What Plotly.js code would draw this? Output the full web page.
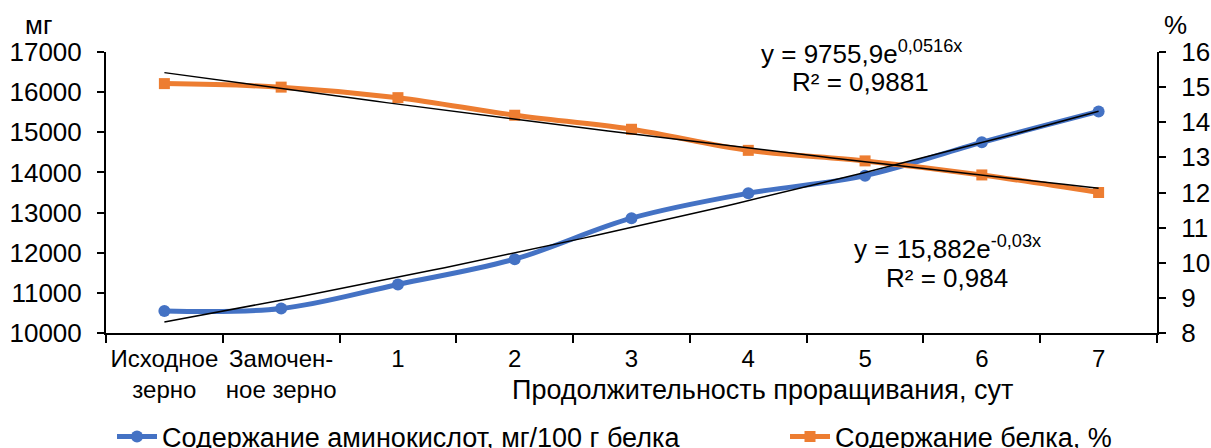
<!DOCTYPE html>
<html>
<head>
<meta charset="utf-8">
<script src="https://cdn.plot.ly/plotly-3.0.1.min.js"></script>
<style>html,body{margin:0;padding:0;background:#fff;}#chart{width:1211px;height:448px;}</style>
</head>
<body>
<div id="chart"></div>
<script>
// ---- data ----
const categories = ["Исходное<br>зерно", "Замочен-<br>ное зерно", "1", "2", "3", "4", "5", "6", "7"];
const aminoAcids = [10550, 10610, 11210, 11840, 12860, 13480, 13920, 14750, 15520];
const protein = [15.1, 15.0, 14.7, 14.2, 13.8, 13.2, 12.9, 12.5, 12.0];
const aminoName = "Содержание аминокислот, мг/100 г белка";
const proteinName = "Содержание белка, %";
// exponential trend coefficients as printed on the chart: y = a*e^(b*x), x = 1..9
const aminoTrend = {a: 9755.9, b: 0.0516};
const proteinTrend = {a: 15.882, b: -0.03};
const aminoEq = "y = 9755,9e<sup>0,0516x</sup>";
const aminoR2 = "R² = 0,9881";
const proteinEq = "y = 15,882e<sup>-0,03x</sup>";
const proteinR2 = "R² = 0,984";
const xTitle = "Продолжительность проращивания, сут";
const yLeftUnit = "мг";
const yRightUnit = "%";

// ---- trend lines from printed equations ----
function trend(c) {
  const xs = [], ys = [];
  for (let i = 0; i <= 80; i++) {
    const x = 1 + i * 0.1;
    xs.push(x - 1);
    ys.push(c.a * Math.exp(c.b * x));
  }
  return {xs, ys};
}
const tA = trend(aminoTrend), tP = trend(proteinTrend);

const FONT = "Liberation Sans, Arial, sans-serif";
const FS = 26;
const blue = "#4472C4", orange = "#ED7D31";

const traces = [
  {x: categories, y: aminoAcids, name: aminoName, type: "scatter", mode: "lines+markers",
   line: {color: blue, width: 5, shape: "spline", smoothing: 1}, marker: {symbol: "circle", size: 12, color: blue},
   xaxis: "x", yaxis: "y", legend: "legend"},
  {x: categories, y: protein, name: proteinName, type: "scatter", mode: "lines+markers",
   line: {color: orange, width: 5, shape: "spline", smoothing: 1}, marker: {symbol: "square", size: 11, color: orange},
   xaxis: "x", yaxis: "y2", legend: "legend2"},
  {x: tA.xs, y: tA.ys, type: "scatter", mode: "lines", line: {color: "#000", width: 1.5},
   showlegend: false, hoverinfo: "skip", xaxis: "x2", yaxis: "y"},
  {x: tP.xs, y: tP.ys, type: "scatter", mode: "lines", line: {color: "#000", width: 1.5},
   showlegend: false, hoverinfo: "skip", xaxis: "x2", yaxis: "y2"}
];

const L = 106, R = 1157, T = 52, B = 333;
const px = v => (v - L) / (R - L);
const py = v => (B - v) / (B - T);
function ann(text, x, y, size) {
  return {text, xref: "paper", yref: "paper", x: px(x), y: py(y), xanchor: "center", yanchor: "middle",
          showarrow: false, align: "center", font: {size: size || FS}};
}
function leg(xPix) {
  return {orientation: "h", xref: "paper", yref: "paper", x: px(xPix), xanchor: "left",
          y: py(437), yanchor: "middle", font: {size: 27}, itemwidth: 40,
          bgcolor: "rgba(0,0,0,0)", borderwidth: 0};
}

const layout = {
  width: 1211, height: 448,
  margin: {l: L, r: 1211 - R, t: T, b: 448 - B, autoexpand: false},
  paper_bgcolor: "#fff", plot_bgcolor: "#fff",
  font: {family: FONT, size: FS, color: "#000"},
  showlegend: true,
  xaxis: {type: "category", range: [-0.5, 8.5], tickson: "boundaries", ticks: "outside", ticklen: 8,
          tickwidth: 2, tickcolor: "#000", showline: true, linecolor: "#000", linewidth: 2, tickangle: 0,
          ticklabelstandoff: 3, showgrid: false, zeroline: false, tickfont: {size: 24}, fixedrange: true},
  xaxis2: {type: "linear", range: [-0.5, 8.5], overlaying: "x", visible: false, fixedrange: true},
  yaxis: {range: [10000, 17000], dtick: 1000, ticks: "outside", ticklen: 7, tickwidth: 2, tickcolor: "#000",
          showline: true, linecolor: "#000", linewidth: 2, showgrid: false, zeroline: false,
          tickformat: "d", ticklabelstandoff: 10, tickfont: {size: FS}, fixedrange: true},
  yaxis2: {range: [8, 16], dtick: 1, overlaying: "y", side: "right", ticks: "outside", ticklen: 7, tickwidth: 2,
           tickcolor: "#000", showline: true, linecolor: "#000", linewidth: 2, showgrid: false, zeroline: false,
           ticklabelstandoff: 10, tickfont: {size: FS}, fixedrange: true},
  legend: leg(112),
  legend2: leg(785),
  annotations: [
    ann(yLeftUnit, 38, 25),
    ann(yRightUnit, 1175, 25),
    ann(aminoEq, 861, 52),
    ann(aminoR2, 860, 82),
    ann(proteinEq, 947, 247),
    ann(proteinR2, 947, 278),
    ann(xTitle, 762, 390, 27)
  ]
};

Plotly.newPlot("chart", traces, layout, {displayModeBar: false, staticPlot: true});
</script>
</body>
</html>
